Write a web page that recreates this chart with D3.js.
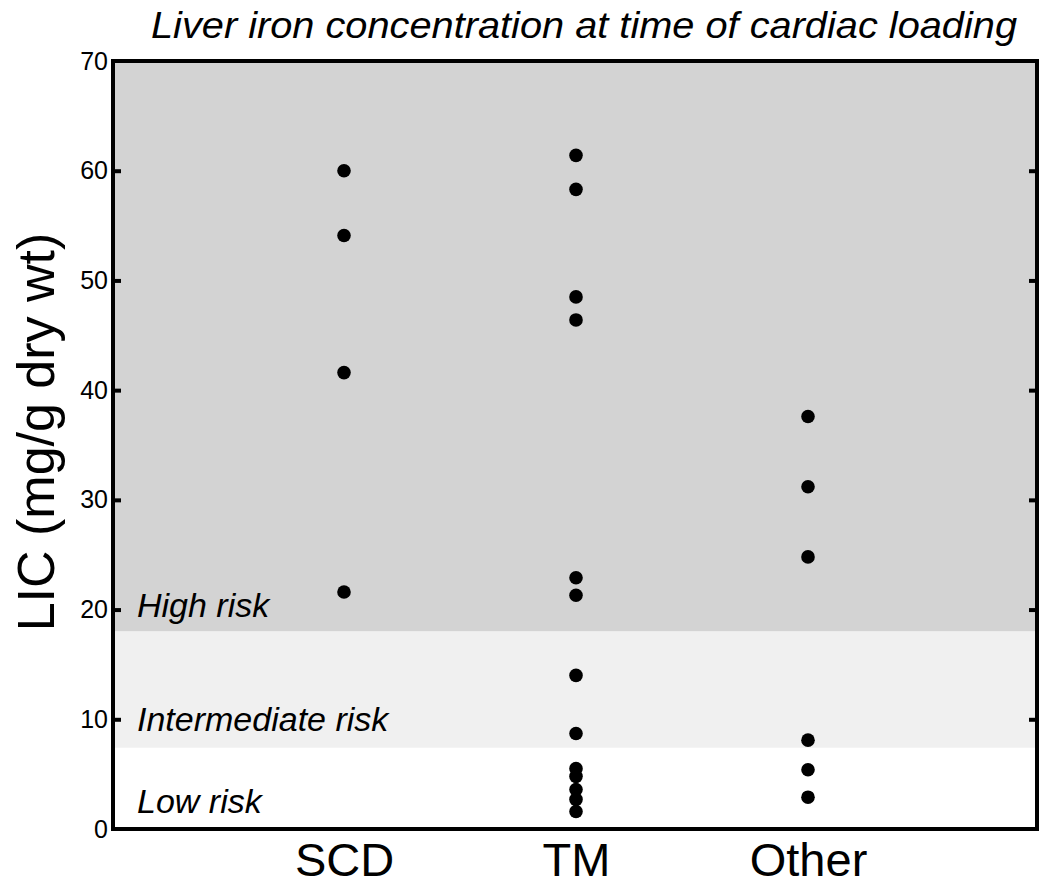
<!DOCTYPE html>
<html>
<head>
<meta charset="utf-8">
<script src="https://cdn.jsdelivr.net/npm/d3@7"></script>
<style>
  html, body { margin: 0; padding: 0; background: #fff; }
  text { font-family: "Liberation Sans", Arial, Helvetica, sans-serif; fill: #000; }
</style>
</head>
<body>
<svg id="chart" width="1050" height="891"></svg>
<script>
const categories = ["SCD", "TM", "Other"];
const scdValues = [60.0, 54.1, 41.6, 21.6];
const tmValues = [61.4, 58.3, 48.5, 46.4, 22.9, 21.3, 14.0, 8.7, 5.5, 4.8, 3.6, 2.7, 1.6];
const otherValues = [37.6, 31.2, 24.8, 8.1, 5.4, 2.9];
const seriesValues = [scdValues, tmValues, otherValues];
const yTicks = [0, 10, 20, 30, 40, 50, 60, 70];
const riskBands = [
  { label: "High risk", from: 18, to: 70, labelAt: 19.3 },
  { label: "Intermediate risk", from: 7.4, to: 18, labelAt: 8.9 },
  { label: "Low risk", from: 0, to: 7.4, labelAt: 1.5 }
];
const bandColors = ["#d3d3d3", "#f0f0f0", "#ffffff"];
const title = "Liver iron concentration at time of cardiac loading";
const yTitle = "LIC (mg/g dry wt)";

const svg = d3.select("#chart");
const margin = { left: 113, right: 1037, top: 61, bottom: 829 };

const y = d3.scaleLinear().domain([0, 70]).range([margin.bottom, margin.top]);
const x = d3.scalePoint().domain(categories).range([344, 808]);

// bands
svg.append("g").selectAll("rect").data(riskBands).join("rect")
  .attr("x", margin.left)
  .attr("width", margin.right - margin.left)
  .attr("y", d => y(d.to))
  .attr("height", d => y(d.from) - y(d.to))
  .attr("fill", (d, i) => bandColors[i]);

// band labels
svg.append("g").selectAll("text").data(riskBands).join("text")
  .attr("x", 137)
  .attr("y", d => y(d.labelAt))
  .attr("font-size", 34)
  .attr("font-style", "italic")
  .text(d => d.label);

// points
const pts = [];
categories.forEach((c, i) => seriesValues[i].forEach(v => pts.push({ c, v })));
svg.append("g").selectAll("circle").data(pts).join("circle")
  .attr("cx", d => x(d.c))
  .attr("cy", d => y(d.v))
  .attr("r", 6.8)
  .attr("fill", "#000");

// left axis
const leftAxis = d3.axisLeft(y).tickValues(yTicks).tickSizeInner(-8).tickSizeOuter(0).tickPadding(6);
const gl = svg.append("g").attr("transform", `translate(${margin.left},0)`).call(leftAxis);
gl.select(".domain").remove();
gl.selectAll(".tick line").attr("stroke", "#000").attr("stroke-width", 4);
gl.selectAll(".tick text").attr("font-size", 25).attr("font-family", "Liberation Sans, Arial, sans-serif").attr("x", -5);
gl.selectAll(".tick").filter(d => d === 0 || d === 70).select("line").remove();

// right axis ticks
const rightAxis = d3.axisRight(y).tickValues(yTicks.filter(d => d > 0 && d < 70)).tickSizeInner(-8).tickSizeOuter(0).tickFormat("");
const gr = svg.append("g").attr("transform", `translate(${margin.right},0)`).call(rightAxis);
gr.select(".domain").remove();
gr.selectAll(".tick line").attr("stroke", "#000").attr("stroke-width", 4);

// frame
svg.append("rect")
  .attr("x", margin.left).attr("y", margin.top)
  .attr("width", margin.right - margin.left).attr("height", margin.bottom - margin.top)
  .attr("fill", "none").attr("stroke", "#000").attr("stroke-width", 4);

// x axis labels
const bottomAxis = d3.axisBottom(x).tickSize(0).tickPadding(14);
const gb = svg.append("g").attr("transform", `translate(0,${margin.bottom})`).call(bottomAxis);
gb.select(".domain").remove();
gb.selectAll(".tick text").attr("font-size", 47).attr("font-family", "Liberation Sans, Arial, sans-serif");

// y title
svg.append("text")
  .attr("transform", `translate(54,432) rotate(-90)`)
  .attr("text-anchor", "middle")
  .attr("font-size", 52)
  .text(yTitle);

// title
svg.append("text")
  .attr("x", 584).attr("y", 38)
  .attr("text-anchor", "middle")
  .attr("font-size", 37)
  .attr("font-style", "italic")
  .attr("textLength", 866)
  .attr("lengthAdjust", "spacingAndGlyphs")
  .text(title);
</script>
</body>
</html>
